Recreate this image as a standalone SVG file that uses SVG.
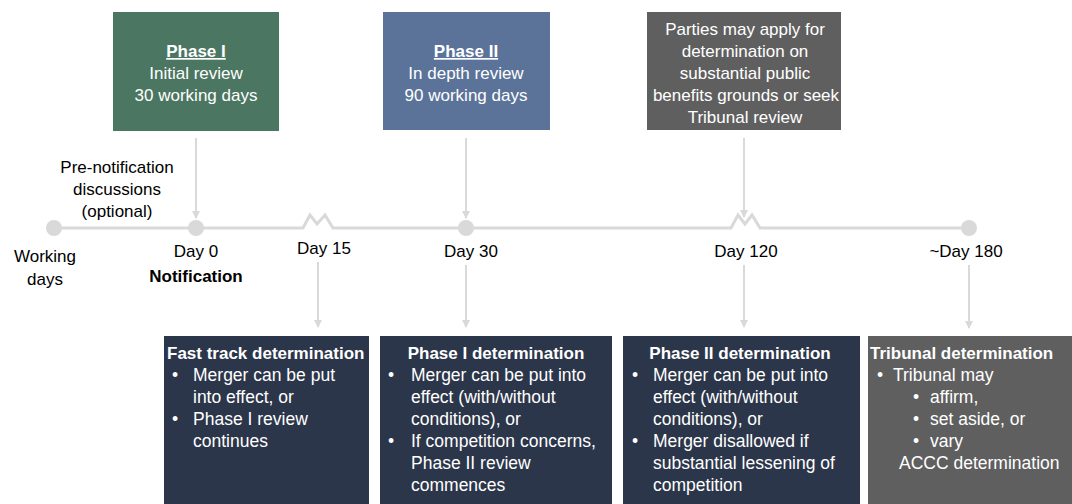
<svg xmlns="http://www.w3.org/2000/svg" width="1072" height="504" viewBox="0 0 1072 504">
  <defs>
    <marker id="ah" markerWidth="8" markerHeight="8" refX="7" refY="4" orient="auto" markerUnits="userSpaceOnUse">
      <path d="M0,0 L8,4 L0,8 Z" fill="#d9d9d9"/>
    </marker>
    <style>
      text { font-family: "Liberation Sans", Arial, sans-serif; }
      .lbl { font-size: 17px; fill: #000; }
      .top { font-size: 17px; fill: #fff; text-anchor: middle; }
      .body { font-size: 17.5px; fill: #fff; }
      .ttl { font-size: 17px; font-weight: bold; fill: #fff; }
      .conn { stroke: #d9d9d9; stroke-width: 2; fill: none; marker-end: url(#ah); }
      .tl { stroke: #d9d9d9; stroke-width: 3; fill: none; stroke-linejoin: miter; }
      .dot { fill: #d9d9d9; }
      .navy { fill: #2c364a; }
    </style>
  </defs>
  <rect width="1072" height="504" fill="#fff"/>

  <g id="timeline">
    <path class="tl" d="M54,228 L303,228 L310,215 L317,224 L325,215 L333,228 L731,228 L738,215 L745,224 L752,215 L760,228 L969,228"/>
    <circle class="dot" cx="54" cy="228" r="8"/>
    <circle class="dot" cx="196" cy="228" r="8"/>
    <circle class="dot" cx="466" cy="228" r="8"/>
    <circle class="dot" cx="969" cy="228" r="8"/>
  </g>

  <g id="connectors">
    <line class="conn" x1="196" y1="138" x2="196" y2="218"/>
    <line class="conn" x1="466" y1="138" x2="466" y2="218"/>
    <line class="conn" x1="744" y1="138" x2="744" y2="217"/>
    <line class="conn" x1="318" y1="262" x2="318" y2="327"/>
    <line class="conn" x1="466" y1="265" x2="466" y2="327"/>
    <line class="conn" x1="744" y1="265" x2="744" y2="327"/>
    <line class="conn" x1="969" y1="265" x2="969" y2="328"/>
  </g>

  <g id="phase1">
    <rect x="113" y="12" width="166" height="119" fill="#4b7661"/>
    <text class="top" x="196" y="57" font-weight="bold" text-decoration="underline">Phase I</text>
    <text class="top" x="196" y="79">Initial review</text>
    <text class="top" x="196" y="101">30 working days</text>
  </g>

  <g id="phase2">
    <rect x="383" y="12" width="167" height="118" fill="#5b7399"/>
    <text class="top" x="466" y="57" font-weight="bold" text-decoration="underline">Phase II</text>
    <text class="top" x="466" y="79">In depth review</text>
    <text class="top" x="466" y="101">90 working days</text>
  </g>

  <g id="tribunal-apply">
    <rect x="647" y="12" width="194" height="118" fill="#5f5f5f"/>
    <text class="top" x="745" y="35">Parties may apply for</text>
    <text class="top" x="745" y="57">determination on</text>
    <text class="top" x="745" y="79">substantial public</text>
    <text class="top" x="746" y="101">benefits grounds or seek</text>
    <text class="top" x="745" y="123">Tribunal review</text>
  </g>

  <g id="labels">
    <text class="lbl" x="117" y="173" text-anchor="middle">Pre-notification</text>
    <text class="lbl" x="117" y="195" text-anchor="middle">discussions</text>
    <text class="lbl" x="117" y="217" text-anchor="middle">(optional)</text>
    <text class="lbl" x="45" y="262" text-anchor="middle">Working</text>
    <text class="lbl" x="45" y="285" text-anchor="middle">days</text>
    <text class="lbl" x="196" y="257" text-anchor="middle">Day 0</text>
    <text class="lbl" x="196" y="282" text-anchor="middle" font-weight="bold">Notification</text>
    <text class="lbl" x="324" y="254" text-anchor="middle">Day 15</text>
    <text class="lbl" x="471" y="257" text-anchor="middle">Day 30</text>
    <text class="lbl" x="746" y="257" text-anchor="middle">Day 120</text>
    <text class="lbl" x="966" y="257" text-anchor="middle">~Day 180</text>
  </g>

  <g id="fast-track">
    <rect class="navy" x="164" y="336" width="205" height="168"/>
    <text class="ttl" x="167" y="359">Fast track determination</text>
    <text class="body" x="172" y="381">•</text>
    <text class="body" x="193" y="381">Merger can be put</text>
    <text class="body" x="193" y="403">into effect, or</text>
    <text class="body" x="172" y="425">•</text>
    <text class="body" x="193" y="425">Phase I review</text>
    <text class="body" x="193" y="447">continues</text>
  </g>

  <g id="phase1-det">
    <rect class="navy" x="380" y="336" width="232" height="168"/>
    <text class="ttl" x="496" y="359" text-anchor="middle">Phase I determination</text>
    <text class="body" x="388" y="381">•</text>
    <text class="body" x="411" y="381">Merger can be put into</text>
    <text class="body" x="411" y="403">effect (with/without</text>
    <text class="body" x="411" y="425">conditions), or</text>
    <text class="body" x="388" y="447">•</text>
    <text class="body" x="411" y="447">If competition concerns,</text>
    <text class="body" x="411" y="469">Phase II review</text>
    <text class="body" x="411" y="491">commences</text>
  </g>

  <g id="phase2-det">
    <rect class="navy" x="623" y="336" width="237" height="168"/>
    <text class="ttl" x="740" y="359" text-anchor="middle">Phase II determination</text>
    <text class="body" x="632" y="381">•</text>
    <text class="body" x="653" y="381">Merger can be put into</text>
    <text class="body" x="653" y="403">effect (with/without</text>
    <text class="body" x="653" y="425">conditions), or</text>
    <text class="body" x="632" y="447">•</text>
    <text class="body" x="653" y="447">Merger disallowed if</text>
    <text class="body" x="653" y="469">substantial lessening of</text>
    <text class="body" x="653" y="491">competition</text>
  </g>

  <g id="tribunal-det">
    <rect x="868" y="336" width="204" height="168" fill="#5f5f5f"/>
    <text class="ttl" x="870" y="359">Tribunal determination</text>
    <text class="body" x="877" y="381">•</text>
    <text class="body" x="893" y="381">Tribunal may</text>
    <text class="body" x="913" y="403">•</text>
    <text class="body" x="930" y="403">affirm,</text>
    <text class="body" x="913" y="425">•</text>
    <text class="body" x="930" y="425">set aside, or</text>
    <text class="body" x="913" y="447">•</text>
    <text class="body" x="930" y="447">vary</text>
    <text class="body" x="899" y="469">ACCC determination</text>
  </g>
</svg>
